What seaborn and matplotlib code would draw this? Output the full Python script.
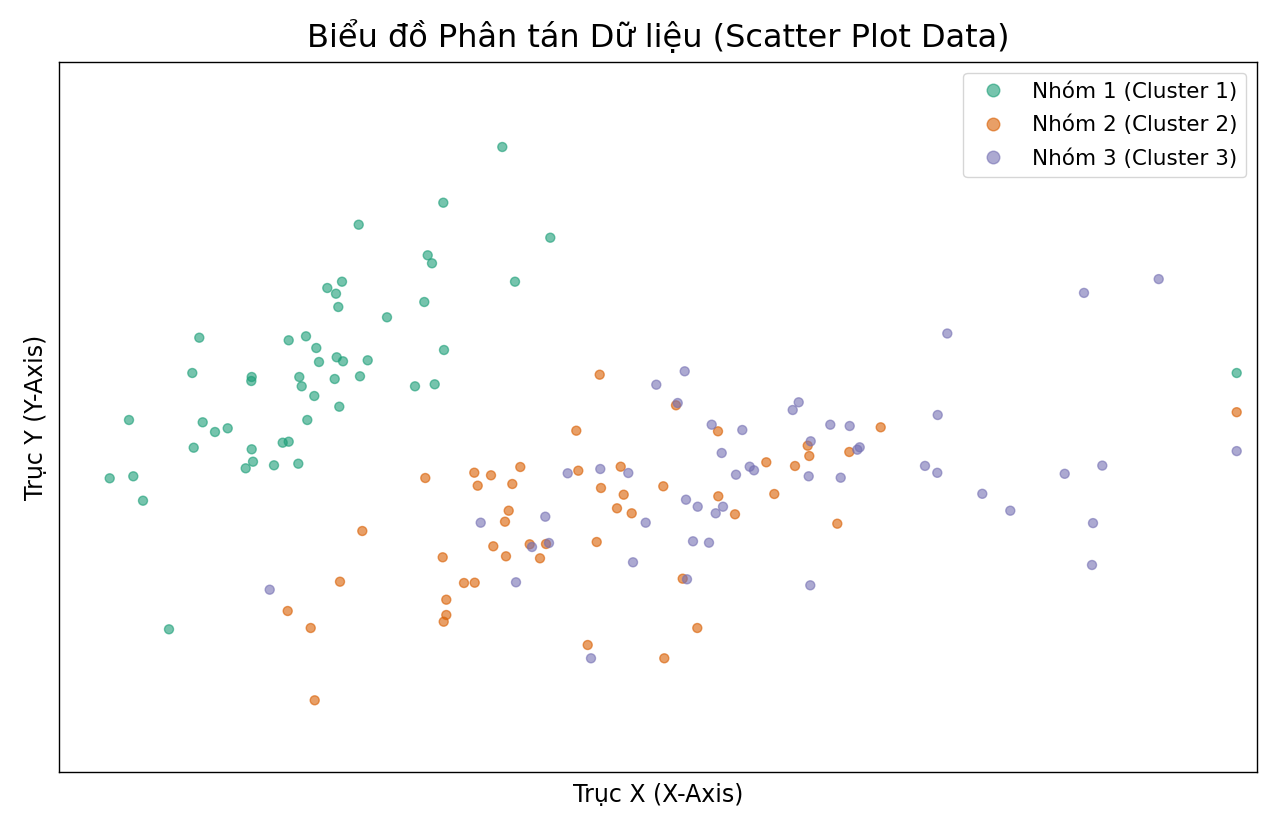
import numpy as np
import pandas as pd
import matplotlib
matplotlib.use("Agg")
import matplotlib.pyplot as plt
import seaborn as sns

# values (no ticks in the original, so units are arbitrary)
cluster1_x = [443.3, 384.3, 299.7, 491.3, 368.7, 373.0, 456.0, 283.0, 268.3, 277.0,
              279.3, 365.3, 328.0, 140.3, 229.7, 247.0, 257.3, 385.0, 260.0, 277.7,
              284.0, 308.7, 133.3, 192.7, 192.3, 240.3, 242.7, 275.7, 301.0, 356.0,
              375.7, 255.3, 280.3, 70.0, 143.7, 156.0, 168.7, 134.7, 192.7, 223.7,
              229.7, 248.3, 194.0, 186.7, 215.0, 239.3, 50.7, 74.3, 84.0, 110.0, 1177.7]
cluster1_y = [625.0, 569.3, 547.3, 534.3, 516.7, 508.7, 490.3, 490.3, 484.0, 478.3,
              465.0, 470.0, 454.7, 434.3, 431.7, 435.7, 424.0, 422.0, 410.0, 414.7,
              410.7, 411.7, 399.0, 395.0, 391.0, 395.0, 385.7, 393.0, 395.7, 385.7,
              387.7, 376.0, 365.3, 352.0, 349.7, 340.0, 343.7, 324.3, 322.7, 329.3,
              330.3, 352.0, 310.3, 303.7, 306.7, 308.3, 293.7, 295.7, 271.3, 142.7, 399.0]

cluster2_x = [366.3, 415.3, 432.0, 461.3, 418.7, 453.3, 449.7, 446.0, 434.3, 447.0,
              470.7, 487.0, 481.0, 383.7, 405.0, 415.7, 387.3, 387.3, 384.7, 303.3,
              281.0, 228.7, 251.7, 255.7, 540.7, 617.0, 517.3, 659.0, 821.7, 748.7,
              750.3, 790.3, 707.3, 736.0, 519.3, 561.7, 542.0, 564.7, 604.3, 558.0,
              572.7, 659.3, 715.3, 676.0, 778.3, 537.7, 623.7, 638.3, 528.7, 605.3, 1177.7]
cluster2_y = [294.0, 299.3, 296.7, 305.0, 286.3, 288.0, 261.3, 250.3, 225.7, 215.7,
              227.7, 228.0, 213.7, 214.7, 189.0, 189.3, 172.3, 157.0, 150.3, 241.0,
              190.3, 161.0, 144.0, 71.7, 397.3, 366.7, 341.3, 340.7, 344.7, 326.3,
              316.0, 320.0, 309.7, 306.0, 301.3, 305.3, 284.0, 277.3, 285.7, 263.7,
              258.7, 275.7, 278.0, 257.7, 248.3, 230.0, 193.3, 144.0, 127.0, 113.7, 359.8]

cluster3_x = [421.7, 486.3, 473.0, 490.0, 457.0, 210.7, 625.7, 597.3, 618.7, 739.7,
              733.7, 652.7, 683.3, 771.3, 790.7, 751.7, 800.7, 798.3, 662.7, 677.0,
              690.7, 695.0, 749.7, 781.7, 508.7, 541.3, 569.3, 627.0, 638.7, 664.0,
              656.7, 586.7, 634.0, 650.0, 574.0, 628.0, 751.3, 532.0, 1099.7, 1025.0,
              888.3, 878.7, 1177.7, 866.0, 878.3, 1043.3, 1005.7, 923.3, 951.3, 1034.0, 1033.0]
cluster3_y = [249.3, 255.3, 225.0, 229.0, 189.7, 182.3, 400.7, 387.3, 369.0, 369.7,
              362.0, 347.3, 342.0, 347.3, 346.0, 330.7, 324.7, 322.3, 319.0, 297.3,
              305.3, 301.7, 295.7, 294.3, 298.7, 303.0, 299.0, 272.3, 265.3, 265.3,
              258.7, 249.3, 230.7, 229.3, 209.7, 192.7, 186.7, 113.7, 492.9, 479.1,
              438.5, 357.0, 320.9, 306.1, 299.2, 306.4, 298.2, 278.2, 261.3, 248.9, 207.0]

labels = ["Nhóm 1 (Cluster 1)", "Nhóm 2 (Cluster 2)", "Nhóm 3 (Cluster 3)"]

df = pd.concat([
    pd.DataFrame({"x": cluster1_x, "y": cluster1_y, "nhom": labels[0]}),
    pd.DataFrame({"x": cluster2_x, "y": cluster2_y, "nhom": labels[1]}),
    pd.DataFrame({"x": cluster3_x, "y": cluster3_y, "nhom": labels[2]}),
])

sns.set_style("white")
plt.rcParams['font.family'] = ['DejaVu Sans']
plt.rcParams['text.color'] = 'black'
plt.rcParams['axes.labelcolor'] = 'black'

fig = plt.figure(figsize=(12.8, 8.32), dpi=100)
ax = fig.add_axes([59 / 1280, 60 / 832, 1198 / 1280, 710 / 832])

sns.scatterplot(data=df, x="x", y="y", hue="nhom", hue_order=labels,
                palette="Dark2", alpha=0.6, s=42, edgecolor="face", linewidth=1,
                ax=ax)

ax.set_xlim(0, 1198)
ax.set_ylim(0, 710)
ax.set_xticks([])
ax.set_yticks([])
for sp in ax.spines.values():
    sp.set_color("black")
    sp.set_linewidth(1.0)

ax.set_title("Biểu đồ Phân tán Dữ liệu (Scatter Plot Data)", fontsize=23, pad=11,
             color="black")
ax.set_xlabel("Trục X (X-Axis)", fontsize=17, labelpad=8)
ax.set_ylabel("Trục Y (Y-Axis)", fontsize=17, labelpad=8)
leg = ax.legend(loc="upper right", fontsize=15.5, markerscale=1.4, frameon=True,
                labelspacing=0.6)
for t in leg.get_texts():
    t.set_color("black")

fig.savefig("out.png", dpi=100)
